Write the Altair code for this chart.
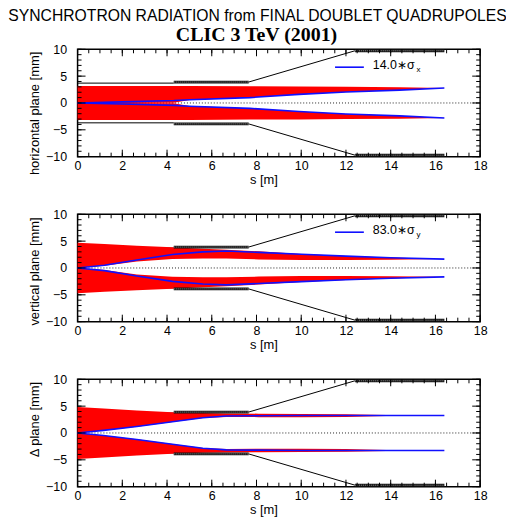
import altair as alt
import pandas as pd

TITLE = "SYNCHROTRON RADIATION from FINAL DOUBLET QUADRUPOLES"
SUBTITLE = "CLIC 3 TeV (2001)"

X_MAJOR = [0, 2, 4, 6, 8, 10, 12, 14, 16, 18]
X_MINOR = [0, 0.5, 1, 1.5, 2, 2.5, 3, 3.5, 4, 4.5, 5, 5.5, 6, 6.5, 7, 7.5, 8, 8.5,
           9, 9.5, 10, 10.5, 11, 11.5, 12, 12.5, 13, 13.5, 14, 14.5, 15, 15.5, 16,
           16.5, 17, 17.5, 18]
Y_MAJOR = [-10, -5, 0, 5, 10]
Y_MINOR = [-10, -9, -8, -7, -6, -5, -4, -3, -2, -1, 0, 1, 2, 3, 4, 5, 6, 7, 8, 9, 10]

PANEL_TITLES = ["horizontal plane [mm]", "vertical plane [mm]", "Δ plane [mm]"]
TITLE_Y = [64, 57, 40]
LEGEND_LABELS = ["14.0∗σ", "83.0∗σ", ""]
LEGEND_SUBS = ["x", "y", ""]

# horizontal plane envelope (mm) vs s (m)
S_H = [0, 2, 4.3, 5, 7.7, 9.9, 12, 14.4, 16.4]
BLUE_H = [0, 0.2, 0.45, 0.6, 1.0, 1.6, 2.05, 2.4, 2.8]
REDOUT_H = [3.15, 3.15, 3.15, 3.15, 3.1, 3.07, 3.0, 2.95, 2.8]
REDIN_H = [0, 0, 0.05, 0.55, 1.0, 1.6, 2.05, 2.4, 2.8]

# vertical plane
S_V = [0, 1.2, 2.65, 4.24, 5.6, 6.65, 8.1, 10, 12, 14, 16.4]
BLUE_V = [0, 0.5, 1.5, 2.5, 3.0, 3.15, 2.9, 2.55, 2.2, 1.9, 1.65]
REDOUT_V = [4.7, 4.45, 4.15, 3.85, 3.6, 3.4, 3.1, 2.6, 2.25, 1.95, 1.65]
REDIN_V = [0, 0.4, 1.2, 1.65, 1.75, 1.75, 1.6, 1.5, 1.5, 1.55, 1.65]

# delta plane
S_D = [0, 1.16, 2.65, 4.24, 5.6, 6.65, 8.1, 10, 12, 13.8, 14.8, 16.4]
BLUE_D = [0, 0.48, 1.2, 2.1, 2.85, 3.15, 3.2, 3.25, 3.25, 3.27, 3.27, 3.27]
REDOUT_D = [4.85, 4.55, 4.2, 3.85, 3.7, 3.65, 3.6, 3.55, 3.5, 3.35, 3.27, 3.27]
REDIN_D = [0, 0.45, 1.15, 2.05, 2.8, 3.0, 2.95, 2.95, 3.0, 3.15, 3.27, 3.27]

# aperture geometry
PIPE_S = [0, 4.3]
PIPE_R = [3.7, 3.7]
CONE_S = [7.65, 12.4]
CONE_R = [3.9, 9.72]
QUAD_S = [4.3, 7.65]
QUAD_R = [3.65, 4.15]
MASK_S = [12.4, 16.4]
MASK_R = [9.45, 10.0]
ZERO = [0]

FONT = "Liberation Sans"
W, H = 405, 108

xs = alt.Scale(domain=[0, 18], nice=False, zero=False)
ys = alt.Scale(domain=[-10, 10], nice=False, zero=False)


def env_df(s, blue, rout, rin):
    rows = []
    for k in range(len(s)):
        rows.append({"s": s[k], "out": rout[k], "in": rin[k], "blue": blue[k], "band": "up"})
        rows.append({"s": s[k], "out": -rout[k], "in": -rin[k], "blue": -blue[k], "band": "lo"})
    return pd.DataFrame(rows)


ENVS = [
    env_df(S_H, BLUE_H, REDOUT_H, REDIN_H),
    env_df(S_V, BLUE_V, REDOUT_V, REDIN_V),
    env_df(S_D, BLUE_D, REDOUT_D, REDIN_D),
]

line_rows = []
for sign, nm in [(1, "u"), (-1, "l")]:
    for k in range(2):
        line_rows.append({"s": PIPE_S[k], "r": sign * PIPE_R[k], "seg": "pipe" + nm})
        line_rows.append({"s": CONE_S[k], "r": sign * CONE_R[k], "seg": "cone" + nm})
lines_df = pd.DataFrame(line_rows)

bar_rows = []
for sign in [1, -1]:
    bar_rows.append({"s1": QUAD_S[0], "s2": QUAD_S[1], "r1": sign * QUAD_R[0], "r2": sign * QUAD_R[1],
                     "rm": sign * (QUAD_R[0] + QUAD_R[1]) / 2})
    bar_rows.append({"s1": MASK_S[0], "s2": MASK_S[1], "r1": sign * MASK_R[0], "r2": sign * MASK_R[1],
                     "rm": sign * (MASK_R[0] + MASK_R[1]) / 2})
bars_df = pd.DataFrame(bar_rows)


def XE(f="s", axis=None):
    return alt.X(f + ":Q", scale=xs, axis=axis)


def YE(f, axis=None):
    return alt.Y(f + ":Q", scale=ys, axis=axis)


def tick_layers():
    out = []
    for vals, ln in [(X_MINOR, 4), (X_MAJOR, 7)]:
        df = pd.DataFrame({"t": vals})
        out.append(alt.Chart(df).mark_rule(color="black", strokeWidth=1).encode(
            x=XE("t"), y=alt.value(H), y2=alt.value(H - ln)))
        out.append(alt.Chart(df).mark_rule(color="black", strokeWidth=1).encode(
            x=XE("t"), y=alt.value(0), y2=alt.value(ln)))
    for vals, ln in [(Y_MINOR, 4), (Y_MAJOR, 8)]:
        df = pd.DataFrame({"t": vals})
        out.append(alt.Chart(df).mark_rule(color="black", strokeWidth=1).encode(
            y=YE("t"), x=alt.value(0), x2=alt.value(ln)))
        out.append(alt.Chart(df).mark_rule(color="black", strokeWidth=1).encode(
            y=YE("t"), x=alt.value(W), x2=alt.value(W - ln)))
    return out


def panel(i):
    env = ENVS[i]
    zero = alt.Chart(pd.DataFrame({"v": ZERO})).mark_rule(
        color="#222", strokeDash=[1, 2], strokeWidth=1).encode(y=YE("v"))
    red = alt.Chart(env).mark_area(color="#ff0000", opacity=1).encode(
        x=XE(), y=YE("out"), y2="in:Q", detail="band:N")
    blue = alt.Chart(env).mark_line(color="#1010ff", strokeWidth=1.6).encode(
        x=XE(), y=YE("blue"), detail="band:N")
    ap = alt.Chart(lines_df).mark_line(color="black", strokeWidth=1).encode(
        x=XE(), y=YE("r"), detail="seg:N")
    bars = alt.Chart(bars_df).mark_rect(color="#111").encode(
        x=XE("s1"), x2="s2:Q", y=YE("r1"), y2="r2:Q")
    hatch = alt.Chart(bars_df).mark_rule(color="#999", strokeDash=[1, 1], strokeWidth=1).encode(
        x=XE("s1"), x2="s2:Q", y=YE("rm"))
    axes = alt.Chart(env).mark_point(opacity=0).encode(
        x=XE("s", alt.Axis(orient="bottom", values=X_MAJOR, ticks=False, domain=False,
                           grid=False, labelPadding=3, title="s [m]", titleX=187,
                           titlePadding=2, labelFlush=False)),
        y=YE("blue", alt.Axis(orient="left", values=Y_MAJOR, ticks=False, domain=False,
                              grid=False, labelPadding=11, title=PANEL_TITLES[i],
                              titleY=TITLE_Y[i], titlePadding=4, labelFlush=False)))

    layers = [zero, ap, red, blue, bars, hatch] + tick_layers() + [axes]

    if LEGEND_LABELS[i]:
        ldf = pd.DataFrame({"t": [LEGEND_LABELS[i]], "u": [LEGEND_SUBS[i]]})
        lrule = alt.Chart(ldf).mark_rule(color="#1010ff", strokeWidth=1.6).encode(
            x=alt.value(259), x2=alt.value(288), y=alt.value(18))
        ltext = alt.Chart(ldf).mark_text(align="left", baseline="alphabetic", fontSize=12.5,
                                         font=FONT, color="black").encode(
            x=alt.value(297), y=alt.value(20), text="t:N")
        lsub = alt.Chart(ldf).mark_text(align="left", baseline="alphabetic", fontSize=8,
                                        font=FONT, color="black").encode(
            x=alt.value(341), y=alt.value(23), text="u:N")
        layers += [lrule, ltext, lsub]

    if i == 0:
        tdf = pd.DataFrame({"a": [TITLE], "b": [SUBTITLE]})
        t1 = alt.Chart(tdf).mark_text(align="center", baseline="alphabetic", fontSize=15.8,
                                      font=FONT, color="black").encode(
            x=alt.value(181), y=alt.value(-28), text="a:N")
        t2 = alt.Chart(tdf).mark_text(align="center", baseline="alphabetic", fontSize=20,
                                      font="Liberation Serif", fontWeight="bold",
                                      color="black").encode(
            x=alt.value(180), y=alt.value(-8.5), text="b:N")
        layers += [t1, t2]

    return alt.layer(*layers).resolve_axis(x="independent", y="independent").properties(
        width=W, height=H)


chart = alt.vconcat(
    panel(0), panel(1), panel(2), spacing=19
).properties(
    padding={"left": -2, "top": -2, "right": -3, "bottom": 0}
).configure_view(
    stroke="black", strokeWidth=1.5
).configure_axis(
    labelFont=FONT, titleFont=FONT, labelColor="black", titleColor="black",
    titleFontWeight="normal", labelFontSize=12.5, titleFontSize=13
)

chart.save("out.html", embed_options={"renderer": "svg", "actions": False})
